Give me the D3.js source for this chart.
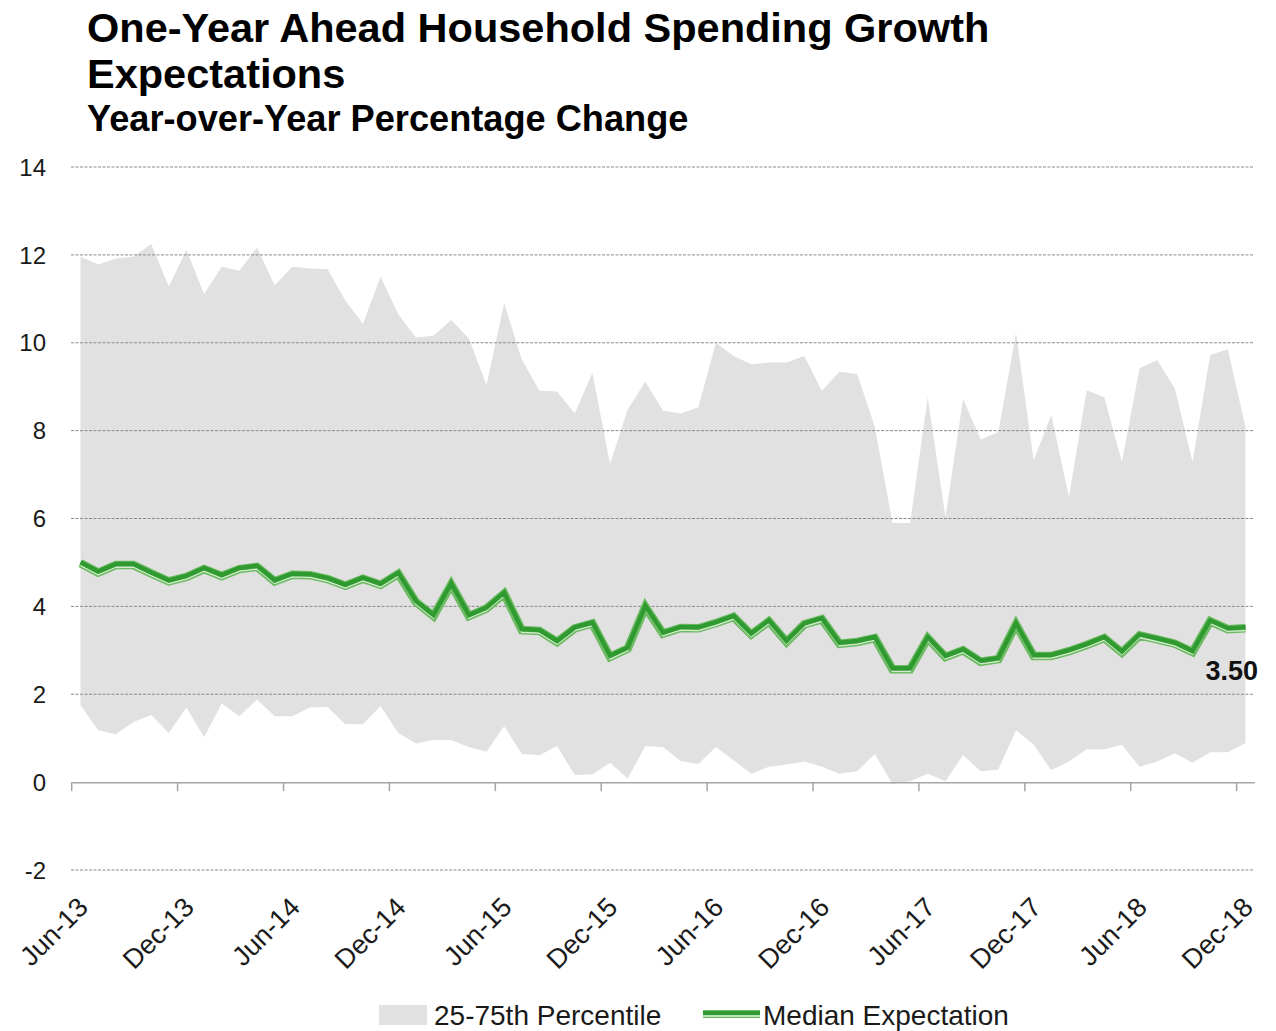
<!DOCTYPE html>
<html>
<head>
<meta charset="utf-8">
<script src="https://cdn.jsdelivr.net/npm/d3@7"></script>
<style>
  html, body { margin: 0; padding: 0; background: #ffffff; }
  svg { display: block; font-family: "Liberation Sans", Arial, sans-serif; }
</style>
</head>
<body>
<svg id="chart" width="1276" height="1031"></svg>
<script>
// Monthly survey readings, Jun-13 through Dec-18
const firstMonth = new Date(2013, 5, 1);
const months = d3.timeMonths(firstMonth, new Date(2019, 0, 1));
const fmt = d3.timeFormat("%b-%y");
const categories = months.map(fmt);

// 75th percentile (upper edge of the band)
const p75 = [11.96, 11.78, 11.92, 11.96, 12.25, 11.28, 12.11, 11.11, 11.73, 11.64,
             12.17, 11.31, 11.73, 11.69, 11.67, 10.96, 10.43, 11.50, 10.65, 10.12,
             10.16, 10.52, 10.10, 9.04, 10.90, 9.62, 8.91, 8.89, 8.39, 9.32,
             7.24, 8.48, 9.11, 8.45, 8.39, 8.53, 10.00, 9.70, 9.51, 9.55,
             9.55, 9.70, 8.91, 9.34, 9.29, 8.09, 5.90, 5.90, 8.76, 6.03,
             8.72, 7.80, 7.97, 10.23, 7.33, 8.35, 6.49, 8.92, 8.76, 7.29,
             9.42, 9.61, 8.96, 7.29, 9.72, 9.85, 8.08];

// 25th percentile (lower edge of the band)
const p25 = [1.75, 1.18, 1.09, 1.37, 1.53, 1.12, 1.70, 1.02, 1.79, 1.50,
             1.88, 1.50, 1.50, 1.70, 1.71, 1.32, 1.32, 1.73, 1.12, 0.88,
             0.96, 0.96, 0.80, 0.69, 1.27, 0.64, 0.61, 0.82, 0.16, 0.18,
             0.44, 0.08, 0.82, 0.80, 0.48, 0.41, 0.80, 0.50, 0.19, 0.35,
             0.40, 0.47, 0.35, 0.19, 0.25, 0.64, -0.04, 0.02, 0.19, 0.02,
             0.62, 0.25, 0.29, 1.18, 0.85, 0.27, 0.47, 0.75, 0.74, 0.85,
             0.35, 0.47, 0.66, 0.44, 0.68, 0.68, 0.89];

// Median expectation
const median = [4.98, 4.77, 4.94, 4.94, 4.75, 4.57, 4.67, 4.85, 4.69, 4.85,
                4.90, 4.57, 4.72, 4.71, 4.62, 4.47, 4.63, 4.49, 4.74, 4.10,
                3.78, 4.50, 3.78, 3.95, 4.29, 3.46, 3.44, 3.19, 3.50, 3.61,
                2.85, 3.04, 3.99, 3.38, 3.51, 3.50, 3.62, 3.76, 3.36, 3.66,
                3.19, 3.59, 3.71, 3.15, 3.19, 3.28, 2.57, 2.57, 3.28, 2.85,
                3.00, 2.74, 2.80, 3.59, 2.87, 2.87, 2.98, 3.12, 3.28, 2.95,
                3.34, 3.25, 3.15, 2.96, 3.66, 3.48, 3.50];

const yTicks = [-2, 0, 2, 4, 6, 8, 10, 12, 14];
const xTickLabels = ["Jun-13", "Dec-13", "Jun-14", "Dec-14", "Jun-15", "Dec-15",
                     "Jun-16", "Dec-16", "Jun-17", "Dec-17", "Jun-18", "Dec-18"];

const titleLines = ["One-Year Ahead Household Spending Growth", "Expectations"];
const subtitle = "Year-over-Year Percentage Change";
const legendItems = ["25-75th Percentile", "Median Expectation"];

const rows = categories.map((c, i) => ({ c, lo: p25[i], hi: p75[i], med: median[i] }));

const svg = d3.select("#chart");

const x = d3.scaleBand().domain(categories).range([71.7, 1254.3]).padding(0);
const y = d3.scaleLinear().domain([-2, 14]).range([870, 167]);
const cx = c => x(c) + x.bandwidth() / 2;

// Titles
const title = svg.append("g").attr("fill", "#000").attr("font-weight", "bold");
title.append("text").attr("x", 87).attr("y", 42).attr("font-size", 41.5).text(titleLines[0]);
title.append("text").attr("x", 87).attr("y", 88).attr("font-size", 41.5).text(titleLines[1]);
title.append("text").attr("x", 87).attr("y", 131).attr("font-size", 36.2).text(subtitle);

// Interquartile band
svg.append("path")
  .datum(rows)
  .attr("fill", "#e1e1e1")
  .attr("d", d3.area().x(d => cx(d.c)).y0(d => y(d.lo)).y1(d => y(d.hi)));

// Dashed horizontal gridlines
svg.append("g")
  .selectAll("line")
  .data(yTicks.filter(v => v !== 0))
  .join("line")
  .attr("x1", 71).attr("x2", 1253)
  .attr("y1", d => y(d)).attr("y2", d => y(d))
  .attr("stroke", "#8a8a8a").attr("stroke-width", 1)
  .attr("stroke-dasharray", "3,1.5");

// Y tick labels
svg.append("g")
  .selectAll("text")
  .data(yTicks)
  .join("text")
  .attr("x", 46).attr("y", d => y(d))
  .attr("dy", "0.36em")
  .attr("text-anchor", "end")
  .attr("font-size", 24)
  .attr("fill", "#1a1a1a")
  .text(d => d);

// Category axis on the zero line
const xAxis = d3.axisBottom(x)
  .tickValues(xTickLabels)
  .tickSize(9)
  .tickSizeOuter(0)
  .tickFormat("");
const gx = svg.append("g").attr("transform", `translate(0,${y(0)})`).call(xAxis);
gx.select(".domain").attr("stroke", "#a6a6a6").attr("stroke-width", 1.5);
gx.selectAll(".tick line").attr("stroke", "#a6a6a6").attr("stroke-width", 1.5)
  .attr("transform", `translate(${-x.bandwidth() / 2},0)`);

// Rotated month labels below the plot
svg.append("g")
  .selectAll("text")
  .data(xTickLabels)
  .join("text")
  .attr("transform", d => `translate(${x(d) + 18},909) rotate(-45)`)
  .attr("text-anchor", "end")
  .attr("font-size", 27)
  .attr("fill", "#1a1a1a")
  .text(d => d);

// Median line drawn as a thick/thin compound stroke
const line = d3.line().x(d => cx(d.c)).y(d => y(d.med));
const lg = svg.append("g").attr("fill", "none").attr("stroke-linejoin", "miter");
lg.append("path").datum(rows).attr("d", line)
  .attr("stroke", "#6dbb63").attr("stroke-width", 8.5);
lg.append("path").datum(rows).attr("d", line)
  .attr("transform", "translate(0,2.2)")
  .attr("stroke", "#d6ecd1").attr("stroke-width", 1.3);
lg.append("path").datum(rows).attr("d", line)
  .attr("transform", "translate(0,-1)")
  .attr("stroke", "#2f9a2f").attr("stroke-width", 4.5);

// Value label for the latest reading
const last = rows[rows.length - 1];
svg.append("text")
  .attr("x", 1258).attr("y", 680)
  .attr("text-anchor", "end")
  .attr("font-size", 27).attr("font-weight", "bold")
  .attr("fill", "#111")
  .text(d3.format(".2f")(last.med));

// Legend
const legend = svg.append("g");
legend.append("rect").attr("x", 379).attr("y", 1005).attr("width", 48).attr("height", 20)
  .attr("fill", "#e1e1e1");
legend.append("text").attr("x", 434).attr("y", 1025).attr("font-size", 28)
  .attr("fill", "#1a1a1a").text(legendItems[0]);
legend.append("line").attr("x1", 703).attr("x2", 760).attr("y1", 1014).attr("y2", 1014)
  .attr("stroke", "#6dbb63").attr("stroke-width", 8);
legend.append("line").attr("x1", 703).attr("x2", 760).attr("y1", 1016).attr("y2", 1016)
  .attr("stroke", "#d6ecd1").attr("stroke-width", 1.3);
legend.append("line").attr("x1", 703).attr("x2", 760).attr("y1", 1013).attr("y2", 1013)
  .attr("stroke", "#2f9a2f").attr("stroke-width", 4);
legend.append("text").attr("x", 763).attr("y", 1025).attr("font-size", 28)
  .attr("fill", "#1a1a1a").text(legendItems[1]);
</script>
</body>
</html>
